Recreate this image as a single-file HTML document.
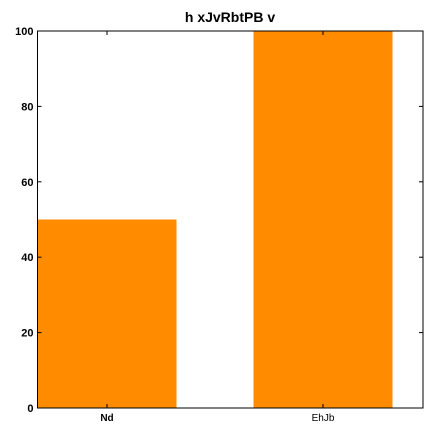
<!DOCTYPE html>
<html><head><meta charset="utf-8"><style>
html,body{margin:0;padding:0;background:#fff;}
svg{display:block;font-family:"Liberation Sans",sans-serif;}
</style></head><body>
<svg id="c" width="434" height="434"></svg>
<script>
const categories = ["Nd", "EhJb"];
const values = [50, 100];
const yTicks = [0, 20, 40, 60, 80, 100];
const NS = "http://www.w3.org/2000/svg";
const svg = document.getElementById("c");
const L = 37.5, R = 423, T = 31, B = 408;
const yMax = 100;
const y = v => B - (v / yMax) * (B - T);
const x = i => 107 + 216 * i;
const bw = 139;
function mk(tag, attrs) { const e = document.createElementNS(NS, tag); for (const k in attrs) e.setAttribute(k, attrs[k]); svg.appendChild(e); return e; }
values.forEach((v, i) => {
  const r = mk("rect", {x: x(i) - bw / 2, y: y(v), width: bw, height: y(0) - y(v), fill: "#ff8c00"});
  
  
});
const frame = mk("rect", {x: L, y: T, width: R - L, height: B - T, fill: "none", stroke: "#000", "stroke-width": 1});


yTicks.forEach(t => {
  mk("line", {x1: L, x2: L + 4, y1: y(t), y2: y(t), stroke: "#000"});
  mk("line", {x1: R, x2: R - 4, y1: y(t), y2: y(t), stroke: "#000"});
  const tx = mk("text", {x: L - 4, y: y(t) + 4, "text-anchor": "end", "font-size": 11, "font-weight": "bold"});
  tx.textContent = t;
  
  
});
categories.forEach((c, i) => {
  mk("line", {x1: x(i), x2: x(i), y1: B, y2: B - 4, stroke: "#000"});
  mk("line", {x1: x(i), x2: x(i), y1: T, y2: T + 4, stroke: "#000"});
  const tx = mk("text", {x: x(i), y: B + 13, "text-anchor": "middle", "font-size": 10, "font-weight": i === 0 ? "bold" : "normal"});
  tx.textContent = c;
  
  
});
const title = mk("text", {x: 230, y: 22, "text-anchor": "middle", "font-size": 14, "font-weight": "bold"});
title.textContent = "h xJvRbtPB v";


</script>
</body></html>
